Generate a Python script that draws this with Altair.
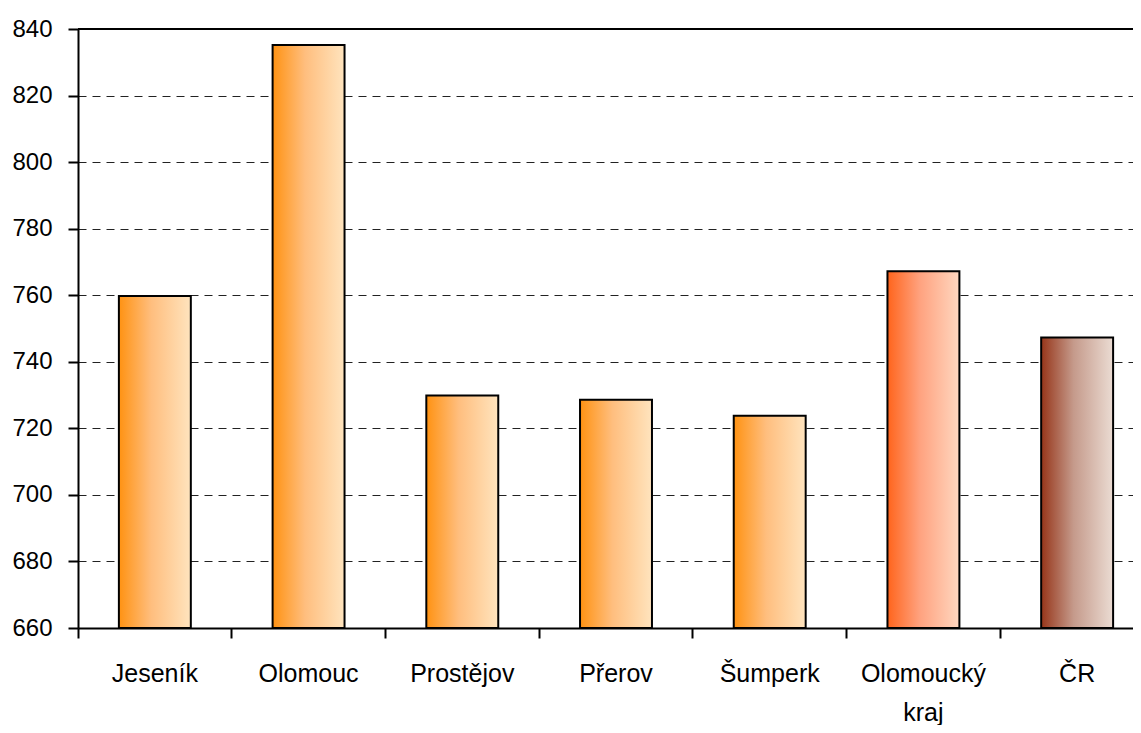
import altair as alt
import pandas as pd

categories = ["Jeseník", "Olomouc", "Prostějov", "Přerov", "Šumperk", "Olomoucký kraj", "ČR"]
values = [759.8, 835.2, 729.9, 728.6, 723.8, 767.2, 747.3]
groups = ["okres", "okres", "okres", "okres", "okres", "kraj", "cr"]
y_ticks = [660, 680, 700, 720, 740, 760, 780, 800, 820, 840]

df = pd.DataFrame({"cat": categories, "value": values, "group": groups})

FONT = "Liberation Sans"


def grad(c0, c1, c2):
    return alt.Gradient(
        gradient="linear", x1=0, x2=1, y1=0, y2=0,
        stops=[alt.GradientStop(color=c0, offset=0),
               alt.GradientStop(color=c1, offset=0.45),
               alt.GradientStop(color=c2, offset=1)],
    )


fills = {
    "okres": grad("#FF9212", "#FFBE7E", "#FFE4BE"),
    "kraj": grad("#FF641C", "#FFA27F", "#FFD7C0"),
    "cr": grad("#963519", "#C59A8B", "#EBDCD3"),
}

x_enc = alt.X(
    "cat:N", sort=categories, title=None,
    scale=alt.Scale(domain=categories, range=[0, 1076],
                    paddingInner=0.532, paddingOuter=0.266),
    axis=alt.Axis(
        orient="bottom", ticks=False, labelAngle=0, labelFont=FONT,
        labelFontSize=25, labelColor="black", labelBaseline="top",
        labelPadding=33, labelLineHeight=39,
        domainColor="black", domainWidth=2, grid=False, zindex=1,
        labelExpr="datum.value == 'Olomoucký kraj' ? ['Olomoucký', 'kraj'] : datum.value",
    ),
)
y_enc = alt.Y(
    "value:Q", title=None,
    scale=alt.Scale(domain=[660, 840], nice=False, zero=False),
    axis=alt.Axis(
        values=y_ticks, labelFont=FONT, labelFontSize=24, labelColor="black",
        labelPadding=16, tickSize=10, tickColor="black", tickWidth=2,
        domainColor="black", domainWidth=2, grid=True, gridColor="#222222",
        gridDash=[8, 6], gridWidth=1,
    ),
)

base = alt.Chart(df)
layers = []
for g, f in fills.items():
    layers.append(
        base.transform_filter(alt.datum.group == g)
        .mark_bar(color=f, stroke="black", strokeWidth=2)
        .encode(x=x_enc, y=y_enc, y2=alt.Y2(datum=660))
    )

top_rule = alt.Chart(pd.DataFrame({"v": [840]})).mark_rule(
    color="black", strokeWidth=2
).encode(y=alt.Y("v:Q"))

bars = alt.layer(*layers, top_rule)

# invisible layer that only carries the category-boundary ticks
tick_layer = base.mark_point(opacity=0).encode(
    x=alt.X(
        "cat:N", sort=categories, title=None,
        scale=alt.Scale(type="band", domain=categories, range=[0, 1076],
                        paddingInner=0, paddingOuter=0),
        axis=alt.Axis(
            orient="bottom", bandPosition=0, labels=False, domain=False,
            tickSize=10, tickColor="black", tickWidth=2, grid=False, zindex=1,
        ),
    ),
    y=y_enc,
)

chart = (
    alt.layer(bars, tick_layer)
    .resolve_scale(x="independent")
    .properties(
        width=1055, height=599,
        padding={"left": 70, "top": 21, "right": 0, "bottom": 97},
        autosize=alt.AutoSizeParams(type="none"),
    )
    .configure_view(stroke=None)
)

chart.save("out.html", embed_options={"renderer": "svg", "actions": False})
